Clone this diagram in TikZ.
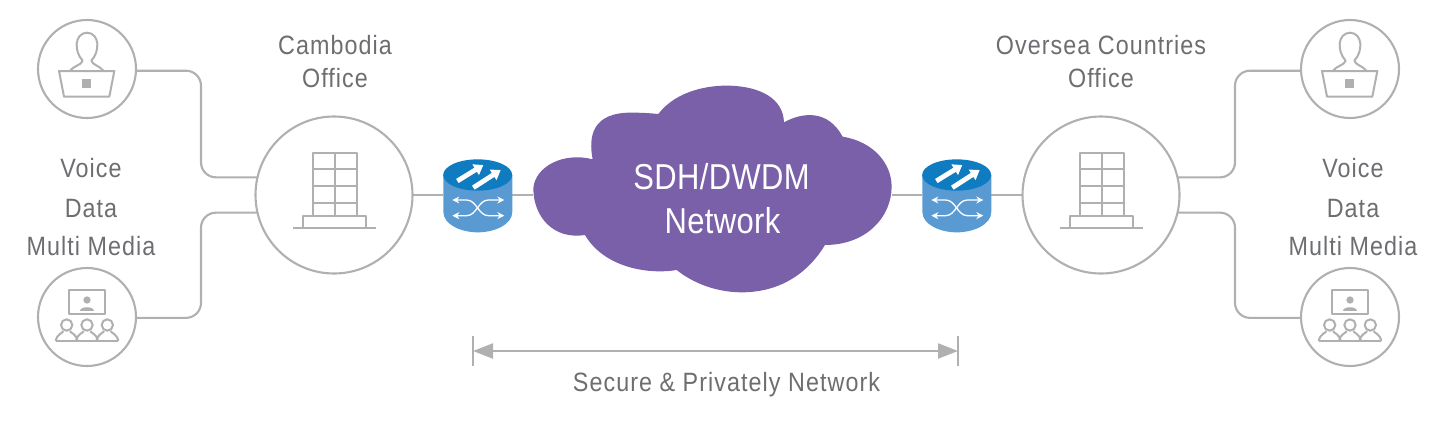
\documentclass[tikz,border=0pt]{standalone}
\usepackage{fontspec}
\setmainfont{Liberation Sans}
\newfontfamily\labfont[FakeStretch=0.88,LetterSpace=4]{Liberation Sans}
\newfontfamily\netfont[FakeStretch=0.86,LetterSpace=1]{Liberation Sans}
\usetikzlibrary{arrows.meta}
\definecolor{linegray}{HTML}{B0B0B3}
\definecolor{txtgray}{HTML}{6D6E71}
\definecolor{cloudp}{HTML}{7A60A9}
\definecolor{rtop}{HTML}{0F7BC0}
\definecolor{rbody}{HTML}{5A9AD3}
\tikzset{
  x=1pt,y=-1pt,
  bigc/.style={circle,draw=linegray,line width=2.1pt,minimum size=157pt,inner sep=0pt,outer sep=0pt},
  smallc/.style={circle,draw=linegray,line width=2.1pt,minimum size=98pt,inner sep=0pt,outer sep=0pt},
  routerbox/.style={rectangle,minimum width=69pt,minimum height=73pt,inner sep=0pt,outer sep=0pt},
  cloudbox/.style={rectangle,minimum width=359pt,minimum height=220pt,inner sep=0pt,outer sep=0pt},
  conn/.style={draw=linegray,line width=2.1pt},
  corner/.style={conn,rounded corners=15pt},
  ico/.style={draw=linegray,line width=2pt,line join=round},
  lab/.style={text=txtgray,font=\labfont\fontsize{26.5}{30}\selectfont,anchor=base,inner sep=0pt},
  netlab/.style={text=white,font=\netfont\fontsize{36}{40}\selectfont,anchor=base,inner sep=0pt},
  personicon/.pic={
    \begin{scope}[scale=0.3333,shift={(-201,-117)}]
      \draw[ico] (117,123) -- (283,123) -- (268,200) -- (132,200) -- cycle;
      \fill[linegray] (187,148) rectangle (213,175);
      \draw[ico] (150,122) .. controls (160,108) and (185,105) .. (188,92)
        .. controls (162,65) and (162,10) .. (201,8)
        .. controls (240,10) and (240,65) .. (214,92)
        .. controls (217,105) and (240,108) .. (250,122);
    \end{scope}
  },
  audicon/.pic={
    \begin{scope}[scale=0.3333,shift={(-201,-141)}]
      \draw[ico] (146,60) rectangle (256,133);
      \fill[linegray] (201,90) circle (11);
      \fill[linegray] (180,122) .. controls (180,108) and (222,108) .. (222,122) -- cycle;
      \foreach \hx in {140,201,262}{
        \draw[ico] (\hx,165) circle (17);
        \draw[ico] (\hx-33,213) .. controls (\hx-28,190) and (\hx-12,190) .. (\hx-10,183);
        \draw[ico] (\hx+33,213) .. controls (\hx+28,190) and (\hx+12,190) .. (\hx+10,183);
      }
      \draw[ico] (107,213) -- (295,213);
    \end{scope}
  },
  bldicon/.pic={
    \begin{scope}[scale=0.3333,shift={(-282,-285)}]
      \draw[ico] (218,160) rectangle (350,347);
      \draw[ico] (218,208) -- (350,208) (218,258) -- (350,258) (218,310) -- (350,310) (284,160) -- (284,347);
      \draw[ico] (190,385) -- (190,347) -- (378,347) -- (378,385);
      \draw[ico] (160,385) -- (407,385);
    \end{scope}
  },
  routericon/.pic={
    \begin{scope}[scale=0.3333,shift={(-712.5,-286.5)}]
      \fill[rbody] (610,225) -- (610,335) .. controls (610,375) and (665,397) .. (713,397)
        .. controls (762,397) and (817,375) .. (817,335) -- (817,225) -- cycle;
      \fill[rtop] (713,225) ellipse [x radius=103.5,y radius=47];
      \foreach \ax/\ay/\bx/\by in {652/243/730/195,700/263/782/210}{
        \draw[white,line width=4.8pt,-{Triangle[length=9pt,width=12pt]}] (\ax,\ay) -- (\bx,\by);
      }
      \draw[white,line width=1.3pt,{Stealth[length=7pt,width=7pt]}-{Stealth[length=7pt,width=7pt]}]
        (637,300) -- (680,300) .. controls (710,300) and (715,347) .. (745,347) -- (793,347);
      \draw[white,line width=1.3pt,{Stealth[length=7pt,width=7pt]}-{Stealth[length=7pt,width=7pt]}]
        (637,347) -- (680,347) .. controls (710,347) and (715,300) .. (745,300) -- (793,300);
    \end{scope}
  }
}
\begin{document}
\begin{tikzpicture}
\useasboundingbox[fill=white] (0,0) rectangle (1440,421);
% circles
\node[smallc] (u1) at (87,69) {};
\node[smallc] (a1) at (87,317) {};
\node[bigc] (b1) at (334,195) {};
\node[bigc] (b2) at (1101,195) {};
\node[smallc] (u2) at (1350,69) {};
\node[smallc] (a2) at (1350,317) {};
\node[routerbox] (r1) at (477.5,195.5) {};
\node[routerbox] (r2) at (956.5,195.5) {};
\node[cloudbox] (net) at (712.5,195) {};
\coordinate (cl1) at (201,125);
\coordinate (cl2) at (201,265);
\coordinate (cr1) at (1235,125);
\coordinate (cr2) at (1235,265);
\coordinate (d1) at (473,351);
\coordinate (d2) at (958,351);
% connectors
\draw[corner] (u1.-2) -| (cl1) |- (b1.167);
\draw[corner] (a1.-1) -| (cl2) |- (b1.193);
\draw[corner] (u2.182) -| (cr1) |- (b2.13);
\draw[corner] (a2.181) -| (cr2) |- (b2.-13);
\draw[conn] (b1.east) -- (r1.west |- b1.east);
\draw[conn] (r1.east |- net.west) -- (net.west);
\draw[conn] (net.east) -- (r2.west |- net.east);
\draw[conn] (r2.east |- b2.west) -- (b2.west);
% cloud
\begin{scope}[shift={(520,70)},scale=0.3333]
\fill[cloudp] (40,355) .. controls (45,290) and (130,245) .. (218,268)
  .. controls (205,200) and (215,125) .. (340,128)
  .. controls (370,128) and (395,130) .. (415,132)
  .. controls (470,60) and (570,45) .. (630,47)
  .. controls (720,50) and (790,85) .. (792,157)
  .. controls (850,125) and (925,120) .. (968,200)
  .. controls (1060,215) and (1115,280) .. (1115,350)
  .. controls (1115,440) and (1040,525) .. (915,525)
  .. controls (870,600) and (790,667) .. (665,667)
  .. controls (590,667) and (520,640) .. (470,600)
  .. controls (380,615) and (250,590) .. (195,495)
  .. controls (100,510) and (40,440) .. (40,355) -- cycle;
\end{scope}
\node[netlab] (t1) at (721.5,189) {SDH/DWDM};
\node[netlab] (t2) at (722.5,233) {Network};
% icons
\pic at (u1) {personicon};
\pic at (u2) {personicon};
\pic at (a1) {audicon};
\pic at (a2) {audicon};
\pic at (b1) {bldicon};
\pic at (b2) {bldicon};
\pic at (r1) {routericon};
\pic at (r2) {routericon};
% range
\draw[linegray,line width=2.1pt,{Triangle[length=20pt,width=15pt]}-{Triangle[length=20pt,width=15pt]}] (d1) -- (d2);
\draw[linegray,line width=1.5pt] ([yshift=15pt]d1) -- ([yshift=-15pt]d1);
\draw[linegray,line width=1.5pt] ([yshift=15pt]d2) -- ([yshift=-15pt]d2);
% labels
\node[lab] (l1) at (335,54) {Cambodia};
\node[lab] (l2) at (335,87) {Office};
\node[lab] (l3) at (1101,54) {Oversea Countries};
\node[lab] (l4) at (1101,87) {Office};
\node[lab] (l5) at (91,177) {Voice};
\node[lab] (l6) at (91,217) {Data};
\node[lab] (l7) at (91,255) {Multi Media};
\node[lab] (l8) at (1353,177) {Voice};
\node[lab] (l9) at (1353,217) {Data};
\node[lab] (l10) at (1353,255) {Multi Media};
\node[lab] (l11) at (726.5,391) {Secure \& Privately Network};
\end{tikzpicture}
\end{document}
